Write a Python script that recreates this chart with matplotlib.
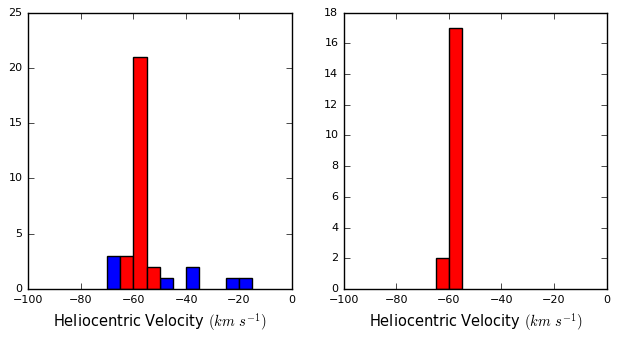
import numpy as np
import matplotlib
matplotlib.use('Agg')
import matplotlib.pyplot as plt

plt.style.use('classic')
plt.rcParams['font.size'] = 8
plt.rcParams['mathtext.fontset'] = 'cm'

# bin edges (km/s), width 5
edges = [-70, -65, -60, -55, -50, -45, -40, -35, -30, -25, -20, -15]

# left panel counts per bin
left_blue = [3, 0, 0, 0, 1, 0, 2, 0, 0, 1, 1]
left_red = [0, 3, 21, 2, 0, 0, 0, 0, 0, 0, 0]

# right panel counts per bin
right_red = [0, 2, 17, 0, 0, 0, 0, 0, 0, 0, 0]

fig = plt.figure(figsize=(6.18, 3.38), dpi=100)
ax1 = fig.add_axes([0.0453, 0.145, 0.4264, 0.8175])
ax2 = fig.add_axes([0.5566, 0.145, 0.4248, 0.8175])

left_edges = edges[:-1]

for vals, col in [(left_blue, 'blue'), (left_red, 'red')]:
    x = [e for e, v in zip(left_edges, vals) if v > 0]
    h = [v for v in vals if v > 0]
    ax1.bar(x, h, width=5, align='edge', color=col, edgecolor='black', linewidth=1)

x = [e for e, v in zip(left_edges, right_red) if v > 0]
h = [v for v in right_red if v > 0]
ax2.bar(x, h, width=5, align='edge', color='red', edgecolor='black', linewidth=1)

ax1.set_xlim(-100, 0)
ax1.set_ylim(0, 25)
ax1.set_yticks(np.arange(0, 26, 5))
ax2.set_xlim(-100, 0)
ax2.set_ylim(0, 18)
ax2.set_yticks(np.arange(0, 19, 2))

for ax in (ax1, ax2):
    ax.set_xticks(np.arange(-100, 1, 20))
    ax.set_xlabel(r'Heliocentric Velocity $(km\ s^{-1})$', fontsize=10.5)
    ax.tick_params(labelsize=8)

fig.savefig('out.png', dpi=100)
